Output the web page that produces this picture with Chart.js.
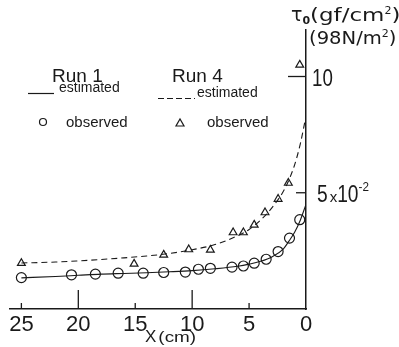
<!DOCTYPE html>
<html>
<head>
<meta charset="utf-8">
<script src="https://cdn.jsdelivr.net/npm/chart.js@4"></script>
<style>
  html, body { margin: 0; padding: 0; background: #fff; }
  canvas { display: block; }
</style>
</head>
<body>
<canvas id="chart1" width="399" height="347"></canvas>
<script>
// tick marks and their labels
const xTicks = [0, 5, 10, 15, 20, 25];
const xLongTicks = [10, 20];
const yTicks = [0.05, 0.10];
const yTickLabels = ["5 x10\u207B\u00B2", "10"];

// Run 1, estimated curve (solid)
const run1EstX = [25, 22, 20, 18, 16, 14, 12, 10, 8, 6, 5, 4, 3, 2, 1.5, 1, 0.5, 0];
const run1EstY = [0.0134, 0.0140, 0.0145, 0.0150, 0.0153, 0.0156, 0.0160, 0.0165, 0.0173, 0.0184, 0.0193, 0.0205, 0.0224, 0.0258, 0.0292, 0.0330, 0.0382, 0.0450];

// Run 4, estimated curve (dashed)
const run4EstX = [25, 22, 20, 18, 16, 14, 12, 10, 8, 6, 5, 4, 3, 2, 1.5, 1, 0.5, 0];
const run4EstY = [0.0198, 0.0202, 0.0207, 0.0213, 0.0220, 0.0228, 0.0239, 0.0255, 0.0277, 0.0315, 0.0342, 0.0382, 0.0435, 0.0505, 0.0555, 0.0620, 0.0710, 0.0830];

// Run 1, observed (circles)
const run1ObsX = [25, 20.6, 18.5, 16.5, 14.3, 12.5, 10.6, 9.45, 8.4, 6.5, 5.5, 4.55, 3.5, 2.45, 1.45, 0.55];
const run1ObsY = [0.0135, 0.0147, 0.0150, 0.0154, 0.0154, 0.0157, 0.0159, 0.0171, 0.0175, 0.0180, 0.0185, 0.0197, 0.0214, 0.0247, 0.0305, 0.0384];

// Run 4, observed (triangles)
const run4ObsX = [25, 15.1, 12.5, 10.3, 8.4, 6.4, 5.5, 4.55, 3.6, 2.45, 1.55, 0.55];
const run4ObsY = [0.0197, 0.0194, 0.0233, 0.0256, 0.0254, 0.0329, 0.0329, 0.0362, 0.0415, 0.0473, 0.0542, 0.1050];

const ink = "#1a1a1a";
const fontFam = "'Liberation Sans', Arial, sans-serif";
const titleFam = "'DejaVu Sans', sans-serif";

function pts(xs, ys) {
    return xs.map((x, i) => ({ x: x, y: ys[i] }));
}

// draws a run of text pieces of different sizes (sub/superscripts), optionally stretched
function drawPieces(ctx, x, y, pieces, fam) {
    pieces.forEach(p => {
        const sx = p.sx || 1;
        ctx.font = (p.bold ? "bold " : "") + p.size + "px " + (fam || fontFam);
        ctx.save();
        ctx.translate(x, y + (p.dy || 0));
        ctx.scale(sx, 1);
        ctx.fillText(p.t, 0, 0);
        ctx.restore();
        x += ctx.measureText(p.t).width * sx + (p.gap || 0);
    });
}

const decorPlugin = {
    id: "decor",
    afterDraw(chart) {
        const ctx = chart.ctx;
        const xs = chart.scales.x;
        const ys = chart.scales.y;
        const area = chart.chartArea;
        ctx.save();
        ctx.strokeStyle = ink;
        ctx.fillStyle = ink;
        ctx.lineWidth = 1.3;

        // inward tick marks on the x axis
        xTicks.forEach(v => {
            if (v === 0) return;
            const px = xs.getPixelForValue(v);
            const len = xLongTicks.includes(v) ? 19 : 6;
            ctx.beginPath();
            ctx.moveTo(px, area.bottom);
            ctx.lineTo(px, area.bottom - len);
            ctx.stroke();
        });
        // tick marks on the y axis (to the left) and their labels (to the right)
        ctx.textBaseline = "alphabetic";
        ctx.textAlign = "left";
        yTicks.forEach((v, i) => {
            const py = ys.getPixelForValue(v);
            const len = i === 0 ? 10 : 18;
            ctx.beginPath();
            ctx.moveTo(area.right, py);
            ctx.lineTo(area.right - len, py);
            ctx.stroke();
        });
        const y0 = ys.getPixelForValue(yTicks[0]);
        const lbl0 = yTickLabels[0];
        drawPieces(ctx, area.right + 11, y0 + 9, [
            { t: lbl0.charAt(0), size: 24, sx: 0.8, gap: 2 },
            { t: "x", size: 15 },
            { t: lbl0.substring(3, 5), size: 24, sx: 0.8 },
            { t: "-2", size: 13, dy: -11, sx: 0.9 }
        ]);
        const y1 = ys.getPixelForValue(yTicks[1]);
        drawPieces(ctx, area.right + 6, y1 + 9, [
            { t: yTickLabels[1], size: 24, sx: 0.78 }
        ]);

        // y axis title
        drawPieces(ctx, 291, 21, [
            { t: "\u03C4", size: 19 },
            { t: "0", size: 11, dy: 3, bold: true },
            { t: "(gf/cm", size: 17, sx: 1.35 },
            { t: "2", size: 11, dy: -7 },
            { t: ")", size: 17, sx: 1.35 }
        ], titleFam);
        drawPieces(ctx, 309, 44, [
            { t: "(98N/m", size: 17, sx: 1.15 },
            { t: "2", size: 11, dy: -7 },
            { t: ")", size: 17, sx: 1.15 }
        ], titleFam);

        // x axis title
        drawPieces(ctx, 145, 342, [
            { t: "X", size: 17, gap: 2 },
            { t: "(cm)", size: 14, sx: 1.35 }
        ]);

        // legend
        ctx.font = "19px " + fontFam;
        ctx.fillText("Run 1", 52, 82);
        ctx.fillText("Run 4", 172, 82);
        ctx.font = "14px " + fontFam;
        ctx.fillText("estimated", 59, 92);
        ctx.fillText("estimated", 197, 97);
        ctx.font = "15px " + fontFam;
        ctx.fillText("observed", 66, 127);
        ctx.fillText("observed", 207, 127);

        ctx.lineWidth = 1.2;
        ctx.beginPath();
        ctx.moveTo(28, 93.5);
        ctx.lineTo(54, 93.5);
        ctx.stroke();
        ctx.setLineDash([6, 3]);
        ctx.beginPath();
        ctx.moveTo(158, 98.5);
        ctx.lineTo(195, 98.5);
        ctx.stroke();
        ctx.setLineDash([]);
        ctx.beginPath();
        ctx.arc(43, 122, 3.5, 0, Math.PI * 2);
        ctx.stroke();
        ctx.beginPath();
        ctx.moveTo(176, 126);
        ctx.lineTo(184, 126);
        ctx.lineTo(180, 119);
        ctx.closePath();
        ctx.stroke();
        ctx.restore();
    }
};

document.addEventListener("DOMContentLoaded", () => {
    const ctx1 = document.getElementById("chart1").getContext("2d");

    new Chart(ctx1, {
        type: "scatter",
        data: {
            datasets: [
                {
                    label: "Run 1 estimated",
                    data: pts(run1EstX, run1EstY),
                    showLine: true,
                    cubicInterpolationMode: "monotone",
                    borderColor: ink,
                    borderWidth: 1.1,
                    pointRadius: 0
                },
                {
                    label: "Run 4 estimated",
                    data: pts(run4EstX, run4EstY),
                    showLine: true,
                    cubicInterpolationMode: "monotone",
                    borderColor: ink,
                    borderWidth: 1.1,
                    borderDash: [6, 4],
                    pointRadius: 0
                },
                {
                    label: "Run 1 observed",
                    data: pts(run1ObsX, run1ObsY),
                    pointStyle: "circle",
                    pointRadius: 5,
                    borderColor: ink,
                    borderWidth: 1.2,
                    backgroundColor: "rgba(0,0,0,0)"
                },
                {
                    label: "Run 4 observed",
                    data: pts(run4ObsX, run4ObsY),
                    pointStyle: "triangle",
                    pointRadius: 4.5,
                    borderColor: ink,
                    borderWidth: 1.2,
                    backgroundColor: "rgba(0,0,0,0)"
                }
            ]
        },
        options: {
            responsive: false,
            animation: false,
            layout: { padding: { left: 10, top: 30, right: 0, bottom: 0 } },
            plugins: {
                legend: { display: false },
                tooltip: { enabled: false }
            },
            scales: {
                x: {
                    type: "linear",
                    position: "bottom",
                    reverse: true,
                    min: 0,
                    max: 26,
                    grid: { display: false, drawTicks: false },
                    border: { display: true, color: ink, width: 1.5 },
                    ticks: {
                        color: ink,
                        padding: 3,
                        maxRotation: 0,
                        font: { family: fontFam, size: 22 }
                    },
                    afterBuildTicks: s => { s.ticks = xTicks.map(v => ({ value: v })); },
                    afterFit: s => {
                        s.height = 38;
                        s.paddingLeft = 0;
                        s.paddingRight = 0;
                    }
                },
                y: {
                    type: "linear",
                    position: "right",
                    min: 0,
                    max: 0.12,
                    grid: { display: false, drawTicks: false },
                    border: { display: true, color: ink, width: 1.5 },
                    ticks: { display: false },
                    afterBuildTicks: s => { s.ticks = yTicks.map(v => ({ value: v })); },
                    afterFit: s => {
                        s.width = 93;
                        s.paddingTop = 0;
                        s.paddingBottom = 0;
                    }
                }
            }
        },
        plugins: [decorPlugin]
    });
});
</script>
</body>
</html>
